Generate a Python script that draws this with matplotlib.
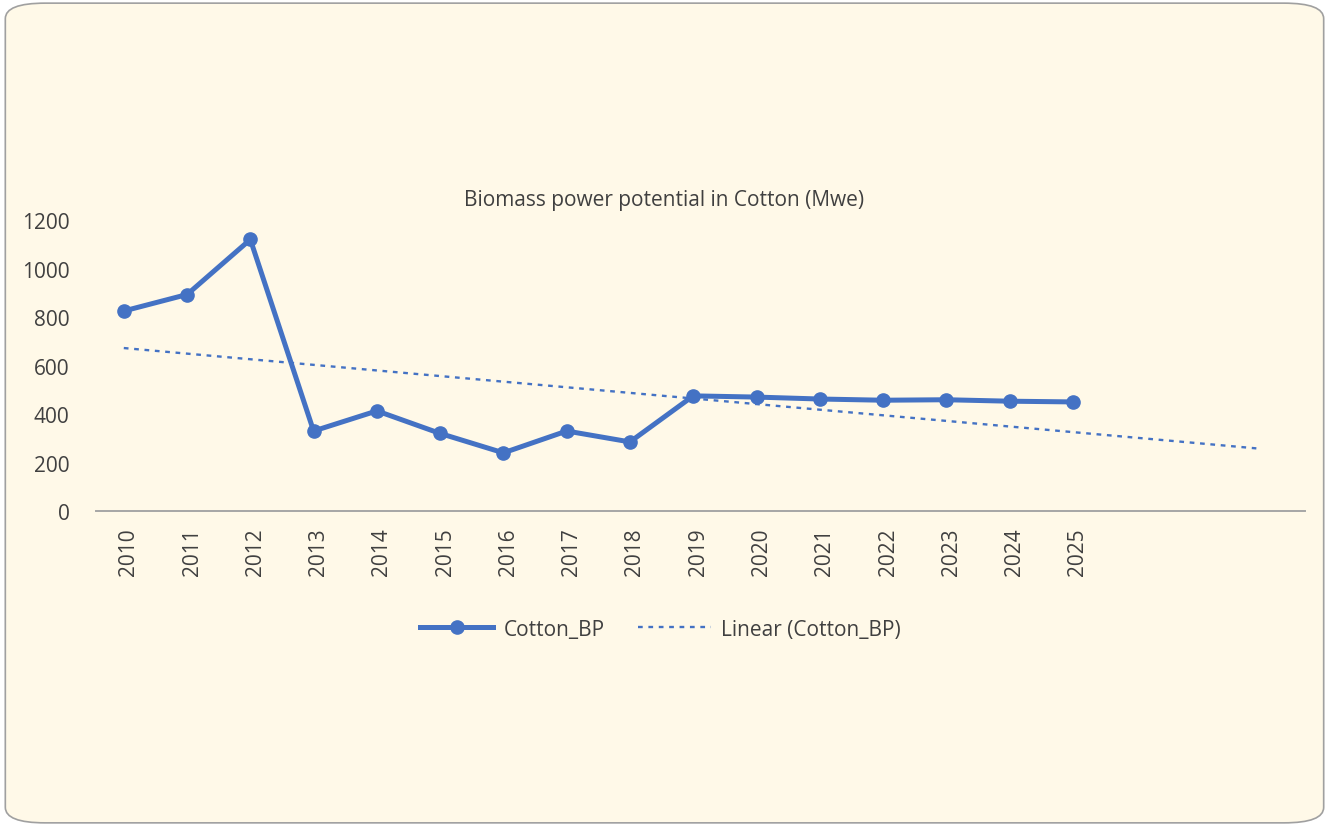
import numpy as np
import matplotlib.pyplot as plt
import matplotlib.transforms as mtransforms
from matplotlib.patches import FancyBboxPatch
from matplotlib.lines import Line2D

years = ["2010", "2011", "2012", "2013", "2014", "2015", "2016", "2017",
         "2018", "2019", "2020", "2021", "2022", "2023", "2024", "2025"]
cotton_bp = [825, 893, 1120, 330, 413, 320, 240, 330,
             285, 475, 470, 462, 457, 459, 453, 450]
yticks = [0, 200, 400, 600, 800, 1000, 1200]
forecast_periods = 2.9  # trendline forward forecast

blue = "#4472C4"
text_col = "#404040"
bg = "#FFF9E8"

plt.rcParams["font.family"] = ["Open Sans", "DejaVu Sans"]

fig = plt.figure(figsize=(13.29, 8.28), dpi=100)
fig.patch.set_facecolor("white")

# rounded chart frame
frame = FancyBboxPatch((0.004, 0.005), 0.992, 0.99,
                       boxstyle="round,pad=0,rounding_size=0.03",
                       transform=fig.transFigure, facecolor=bg,
                       edgecolor="#A0A0A0", linewidth=1.2,
                       mutation_aspect=828 / 1329, zorder=-10)
fig.patches.append(frame)

ax = fig.add_axes([0.0722, 0.3816, 0.9098, 0.3514])
ax.set_facecolor("none")
ax.set_zorder(5)

x = np.arange(len(years))
y = np.array(cotton_bp, dtype=float)
ax.plot(x, y, color=blue, lw=3.6, marker="o", ms=9.5, zorder=3,
        solid_joinstyle="round", clip_on=False)

# linear trendline
slope, intercept = np.polyfit(x + 1, y, 1)
xt = np.array([0, len(years) - 1 + forecast_periods])
ax.plot(xt, slope * (xt + 1) + intercept, color=blue, lw=1.7,
        linestyle=(0, (2.0, 2.4)), zorder=2)

ax.set_xlim(-0.44, 18.67)
ax.set_ylim(0, 1200)
ax.set_yticks(yticks)
ax.set_yticklabels([str(v) for v in yticks], fontsize=15, color=text_col)
ax.set_xticks(x)
ax.set_xticklabels(years, rotation=90, fontsize=15, color=text_col)
ax.tick_params(axis="y", length=0, pad=19)
ax.tick_params(axis="x", length=0, pad=12)
shift = mtransforms.ScaledTranslation(5 / 100, 0, fig.dpi_scale_trans)
for lab in ax.get_xticklabels():
    lab.set_transform(lab.get_transform() + shift)
for s in ["top", "right", "left"]:
    ax.spines[s].set_visible(False)
ax.spines["bottom"].set_color("#A6A6A6")
ax.spines["bottom"].set_linewidth(1.4)

fig.text(0.5, 0.758, "Biomass power potential in Cotton (Mwe)",
         ha="center", va="center", fontsize=15, color=text_col)

handles = [
    Line2D([], [], color=blue, lw=3.6, marker="o", ms=9.5),
    Line2D([], [], color=blue, lw=1.7, linestyle=(0, (2.0, 2.4))),
]
leg = fig.legend(handles, ["Cotton_BP", "Linear (Cotton_BP)"],
                 loc="center", bbox_to_anchor=(0.497, 0.239), ncol=2,
                 frameon=False, fontsize=15, handlelength=3.5,
                 columnspacing=1.6, handletextpad=0.5)
for t in leg.get_texts():
    t.set_color(text_col)

fig.savefig("out.png", dpi=100, facecolor="white")
